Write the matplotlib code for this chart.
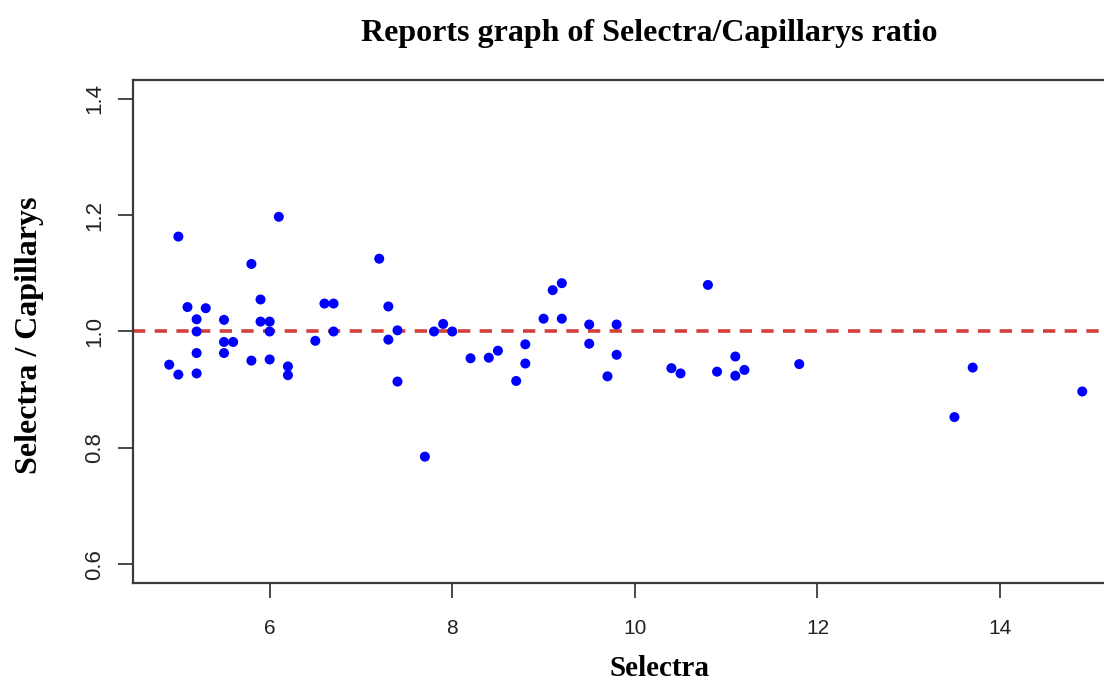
import matplotlib
matplotlib.use("Agg")
import matplotlib.pyplot as plt

# Selectra value and Selectra/Capillarys ratio
selectra = [4.9, 5.0, 5.0, 5.1, 5.2, 5.2, 5.2, 5.2, 5.3, 5.5,
            5.5, 5.5, 5.6, 5.8, 5.8, 5.9, 5.9, 6.0, 6.0, 6.0,
            6.1, 6.2, 6.2, 6.5, 6.6, 6.7, 6.7, 7.2, 7.3, 7.3,
            7.4, 7.4, 7.7, 7.8, 7.9, 8.0, 8.2, 8.4, 8.5, 8.7,
            8.8, 8.8, 9.0, 9.1, 9.2, 9.2, 9.5, 9.5, 9.7, 9.8,
            9.8, 10.4, 10.5, 10.8, 10.9, 11.1, 11.1, 11.2, 11.8, 13.5,
            13.7, 14.9]
ratio = [0.943, 1.163, 0.926, 1.042, 1.021, 1.000, 0.963, 0.928, 1.040, 1.020,
         0.982, 0.963, 0.982, 1.116, 0.950, 1.055, 1.017, 1.017, 1.000, 0.952,
         1.197, 0.940, 0.925, 0.984, 1.048, 1.048, 1.000, 1.125, 1.043, 0.986,
         1.002, 0.914, 0.785, 1.000, 1.013, 1.000, 0.954, 0.955, 0.967, 0.915,
         0.978, 0.945, 1.022, 1.071, 1.083, 1.022, 1.012, 0.979, 0.923, 1.012,
         0.960, 0.937, 0.928, 1.080, 0.931, 0.957, 0.924, 0.934, 0.944, 0.853,
         0.938, 0.897]

xticks = [6, 8, 10, 12, 14]
yticks = [0.6, 0.8, 1.0, 1.2, 1.4]
ref_line = 1.0

SERIF = ["Liberation Serif", "DejaVu Serif"]
SANS = ["Liberation Sans", "DejaVu Sans"]
AX_COL = "#3a3a3a"

fig = plt.figure(figsize=(11.04, 6.83), dpi=100)
# right edge of the frame sits just past the image border, as in the reference
ax = fig.add_axes([0.1202, 0.1464, 0.8932, 0.7365])

ax.scatter(selectra, ratio, s=52, color="#0000FF", edgecolors="none", zorder=3)
ax.axhline(ref_line, color="#D33F3A", lw=2.6, ls=(0, (3.4, 2.6)), zorder=2)

ax.set_xlim(4.5, 15.3)
ax.set_ylim(0.568, 1.432)
ax.set_xticks(xticks)
ax.set_yticks(yticks)
ax.set_xticklabels([str(v) for v in xticks])
ax.set_yticklabels([f"{v:.1f}" for v in yticks], rotation=90, va="center")

for sp in ax.spines.values():
    sp.set_color(AX_COL)
    sp.set_linewidth(1.6)
ax.tick_params(axis="both", length=11, width=1.3, color=AX_COL,
               labelcolor="#222222")
ax.tick_params(axis="x", pad=15, labelsize=15)
ax.tick_params(axis="y", pad=9, labelsize=16)
for lbl in ax.get_xticklabels() + ax.get_yticklabels():
    lbl.set_family(SANS)

fig.text(0.588, 1 - 33 / 683, "Reports graph of Selectra/Capillarys ratio",
         family=SERIF, fontweight="bold", fontsize=23, ha="center", va="center")
fig.text(0.597, 1 - 668 / 683, "Selectra",
         family=SERIF, fontweight="bold", fontsize=21, ha="center", va="center")
fig.text(30 / 1104, 1 - 335 / 683, "Selectra / Capillarys",
         family=SERIF, fontweight="bold", fontsize=23, rotation=90,
         ha="center", va="center")

fig.savefig("out.png", dpi=100)
